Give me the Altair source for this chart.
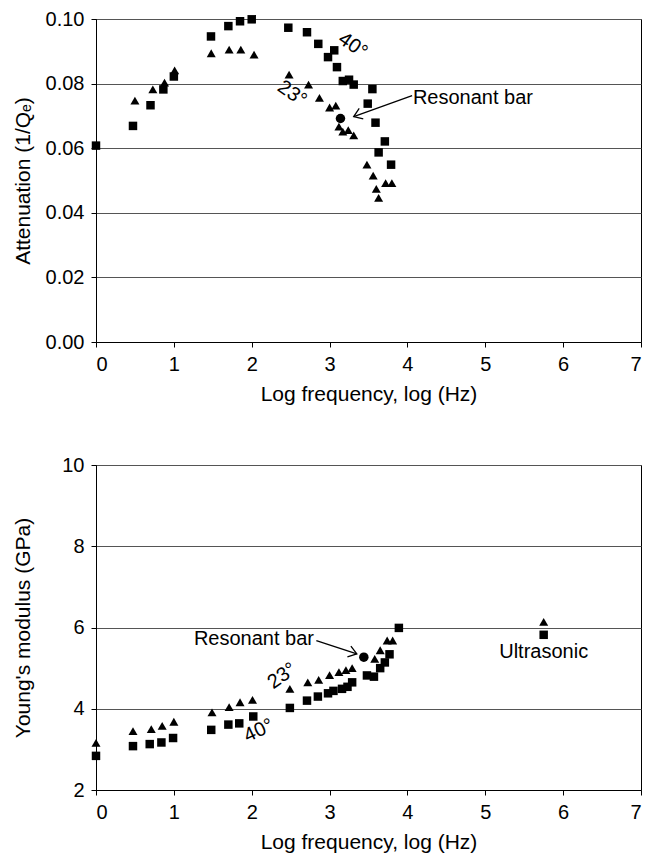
import altair as alt
import pandas as pd

FONT = "Liberation Sans"

# ---------------- Top panel: attenuation ----------------
top_sq_x = [0.0, 0.475, 0.70, 0.865, 1.0, 1.477, 1.70, 1.85, 2.0, 2.47, 2.71, 2.855, 2.98, 3.06, 3.095,
            3.17, 3.25, 3.31, 3.55, 3.49, 3.59, 3.71, 3.63, 3.79]
top_sq_y = [0.0608, 0.0669, 0.0733, 0.0782, 0.0822, 0.0946, 0.0978, 0.0993, 0.0999, 0.0973, 0.0959, 0.0923,
            0.0882, 0.0903, 0.0851, 0.0808, 0.0812, 0.0797, 0.0783, 0.0738, 0.0679, 0.0621, 0.0587, 0.0549]
top_tri_x = [0.50, 0.73, 0.88, 1.01, 1.48, 1.71, 1.86, 2.03, 2.48, 2.73, 2.87, 3.0, 3.08, 3.12, 3.17, 3.24,
             3.31, 3.48, 3.56, 3.72, 3.80, 3.60, 3.63]
top_tri_y = [0.0747, 0.0782, 0.0803, 0.0841, 0.0894, 0.0905, 0.0905, 0.0890, 0.0828, 0.0797, 0.0756, 0.0726,
             0.0732, 0.0667, 0.0651, 0.0656, 0.0640, 0.0549, 0.0515, 0.0492, 0.0492, 0.0474, 0.0446]
top_bar_x = [3.14]
top_bar_y = [0.0692]

# ---------------- Bottom panel: Young's modulus ----------------
bot_sq_x = [0.0, 0.475, 0.69, 0.84, 0.99, 1.48, 1.70, 1.84, 2.02, 2.49, 2.71, 2.85, 2.98, 3.05, 3.16, 3.23,
            3.29, 3.48, 3.57, 3.65, 3.71, 3.77, 3.89, 5.75]
bot_sq_y = [2.84, 3.08, 3.13, 3.17, 3.28, 3.48, 3.61, 3.64, 3.81, 4.02, 4.20, 4.30, 4.38, 4.44, 4.49, 4.54,
            4.65, 4.82, 4.79, 5.0, 5.14, 5.34, 5.99, 5.82]
bot_tri_x = [0.0, 0.475, 0.71, 0.85, 1.0, 1.49, 1.71, 1.85, 2.01, 2.49, 2.72, 2.86, 3.0, 3.12, 3.21, 3.29,
             3.58, 3.65, 3.74, 3.81, 5.75]
bot_tri_y = [3.16, 3.45, 3.50, 3.58, 3.68, 3.91, 4.04, 4.16, 4.22, 4.49, 4.65, 4.71, 4.83, 4.90, 4.95, 5.0,
             5.23, 5.44, 5.68, 5.68, 6.14]
bot_bar_x = [3.44]
bot_bar_y = [5.27]

x_ticks = [0, 1, 2, 3, 4, 5, 6, 7]
top_y_ticks = [0.0, 0.02, 0.04, 0.06, 0.08, 0.10]
bot_y_ticks = [2, 4, 6, 8, 10]

SERIES = ["40°", "23°", "Resonant bar"]
SHAPES = ["square", "triangle-up", "circle"]
SIZES = [72, 90, 160]


def points_df(sx, sy, tx, ty, bx, by):
    rows = []
    for x, y in zip(sx, sy):
        rows.append({"x": x, "y": y, "s": SERIES[0]})
    for x, y in zip(tx, ty):
        rows.append({"x": x, "y": y, "s": SERIES[1]})
    for x, y in zip(bx, by):
        rows.append({"x": x, "y": y, "s": SERIES[2]})
    return pd.DataFrame(rows)


W = 545
ARROW_PATH = "M-1,-0.7L0,0L-1,0.7"


def panel(df, H, ydom, yticks, yfmt, ytitle, labels, arrow):
    xenc = alt.X("x:Q", scale=alt.Scale(domain=[0, 7], nice=False, zero=False),
                 axis=alt.Axis(values=x_ticks, title="Log frequency, log (Hz)", grid=False, format="d"))
    yenc = alt.Y("y:Q", scale=alt.Scale(domain=ydom, nice=False, zero=False),
                 axis=alt.Axis(values=yticks, format=yfmt, title=ytitle, grid=True,
                               titleX=-63, titleY=H / 2))
    pts = alt.Chart(df).mark_point(filled=True, opacity=1, color="black").encode(
        x=xenc, y=yenc,
        shape=alt.Shape("s:N", scale=alt.Scale(domain=SERIES, range=SHAPES), legend=None),
        size=alt.Size("s:N", scale=alt.Scale(domain=SERIES, range=SIZES), legend=None),
    )
    layers = [pts]
    for (tx, ty, txt, ang, al) in labels:
        layers.append(
            alt.Chart(pd.DataFrame({"x": [tx], "y": [ty], "t": [txt]})).mark_text(
                font=FONT, fontSize=20, color="black", angle=ang % 360, align=al, baseline="middle"
            ).encode(x="x:Q", y="y:Q", text="t:N")
        )
    (x1, y1, x2, y2, ang) = arrow
    layers.append(
        alt.Chart(pd.DataFrame({"x": [x1], "y": [y1], "x2": [x2], "y2": [y2]})).mark_rule(
            color="black", strokeWidth=1.3
        ).encode(x="x:Q", y="y:Q", x2="x2:Q", y2="y2:Q")
    )
    layers.append(
        alt.Chart(pd.DataFrame({"x": [x2], "y": [y2]})).mark_point(
            shape=ARROW_PATH, filled=False, color="black", strokeWidth=1.3, size=260, angle=ang % 360, opacity=1
        ).encode(x="x:Q", y="y:Q")
    )
    return alt.layer(*layers).properties(width=W, height=H)


top_df = points_df(top_sq_x, top_sq_y, top_tri_x, top_tri_y, top_bar_x, top_bar_y)
bot_df = points_df(bot_sq_x, bot_sq_y, bot_tri_x, bot_tri_y, bot_bar_x, bot_bar_y)

top = panel(
    top_df, 323, [0, 0.10], top_y_ticks, ".2f", "Attenuation (1/Qₑ)",
    [(3.30, 0.0918, "40°", 35, "center"),
     (2.52, 0.0769, "23°", 35, "center"),
     (4.07, 0.0754, "Resonant bar", 0, "left")],
    (4.06, 0.0763, 3.31, 0.0698, 159),
)
bottom = panel(
    bot_df, 325, [2, 10], bot_y_ticks, "d", "Young's modulus (GPa)",
    [(2.09, 3.46, "40°", -25, "center"),
     (2.39, 4.81, "23°", -35, "center"),
     (2.80, 5.72, "Resonant bar", 0, "right"),
     (5.75, 5.40, "Ultrasonic", 0, "center")],
    (2.83, 5.675, 3.35, 5.35, 18),
)

chart = alt.vconcat(top, bottom, spacing=49).properties(
    padding={"left": 3, "top": 0, "right": 5, "bottom": 5}
).configure_view(
    stroke="black", strokeWidth=1
).configure_axis(
    labelFont=FONT, titleFont=FONT, labelFontSize=20, titleFontSize=21, titleFontWeight="normal",
    labelColor="black", titleColor="black", domainColor="black", tickColor="black",
    tickSize=5, gridColor="#555555", gridWidth=1, domainWidth=1,
).configure_axisX(
    labelPadding=7, titlePadding=9
).configure_axisY(
    labelPadding=7
)

chart.save("out.html", embed_options={"renderer": "svg", "actions": False})
